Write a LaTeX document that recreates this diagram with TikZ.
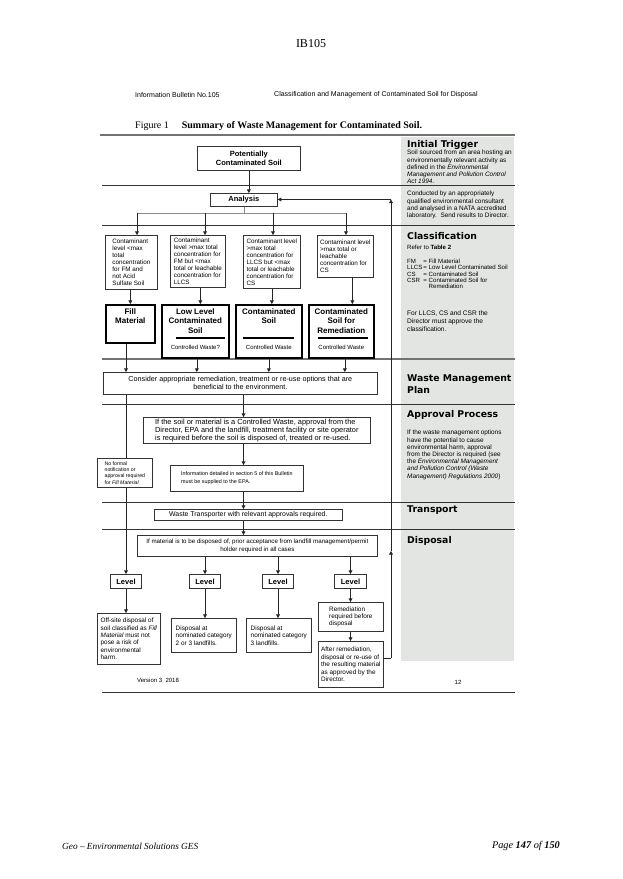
\documentclass[tikz,border=0pt]{standalone}
\usepackage{fontspec}
\setmainfont{Liberation Serif}
\setsansfont{Liberation Sans}
\newfontfamily\hfont{DejaVu Sans}
\usetikzlibrary{arrows.meta,calc}
\newcommand\fsz[2]{\fontsize{#1}{#2}\selectfont}
\definecolor{panelgray}{HTML}{E3E5E2}
\begin{document}
\begin{tikzpicture}[x=1pt,y=-1pt,
  bx/.style={draw=black!80, line width=0.7pt, fill=white, inner sep=0pt, anchor=north west, align=left},
  bb/.style={draw=black, line width=1.7pt, fill=white, inner sep=0pt, anchor=north west},
  cls/.style={bx, font=\sffamily\fsz{6.3}{7}},
  btm/.style={bx, font=\sffamily\fsz{6.4}{7.4}},
  lvl/.style={bx, anchor=north, minimum width=31, minimum height=14, font=\sffamily\bfseries\fsz{7.5}{9}},
  ttl/.style={anchor=north, inner sep=0pt, align=center, font=\sffamily\bfseries\fsz{8}{9.6}},
  cw/.style={anchor=center, inner sep=0pt, font=\sffamily\fsz{6}{7}},
  arr/.style={draw=black!85, line width=0.7pt, -{Triangle[length=3.6pt,width=3.8pt]}},
  ln/.style={draw=black!85, line width=0.7pt},
  sep/.style={draw=black!80, line width=0.8pt},
  sepg/.style={draw=black!55, line width=2pt},
  hd/.style={anchor=north west, inner sep=0pt, align=left, font=\hfont\bfseries\fsz{9.3}{12}},
  pt/.style={anchor=north west, inner sep=0pt, align=left, font=\sffamily\fsz{6.4}{7.2}},
  plain/.style={inner sep=0pt}
]
\useasboundingbox (0,0) rectangle (622,879);
\fill[white] (0,0) rectangle (622,879);

% page header
\node[plain, font=\rmfamily\fsz{12}{14}] (ib) at (311,44) {IB105};
\node[plain, anchor=west, font=\sffamily\fsz{7}{8}] (h1) at (135,95) {Information Bulletin No.105};
\node[plain, anchor=west, font=\sffamily\fsz{7}{8}] (h2) at (274,95) {Classification and Management of Contaminated Soil for Disposal};
\node[plain, anchor=west, font=\rmfamily\fsz{10}{12}] (fig) at (135,126) {Figure 1\hspace{1.3em}\textbf{Summary of Waste Management for Contaminated Soil.}};

% right grey panel
\fill[panelgray] (401,137) rectangle (514,661);

% separators
\draw[sepg] (100,135) -- (515,135);
\draw[sep] (102,185) -- (515,185);
\draw[sep] (102,225) -- (515,225);
\draw[sepg] (102,359) -- (515,359);
\draw[sep] (102,404) -- (515,404);
\draw[sep] (102,502) -- (515,502);
\draw[sep] (102,529) -- (515,529);
\draw[sep] (102,692) -- (515,692);

% right panel texts
\node[hd] (t1) at (407,140) {Initial Trigger};
\node[pt] (p1) at (407,150) {Soil sourced from an area hosting an\\environmentally relevant activity as\\defined in the \textit{Environmental}\\\textit{Management and Pollution Control}\\\textit{Act 1994}.};
\node[pt] (p2) at (407,191) {Conducted by an appropriately\\qualified environmental consultant\\and analysed in a NATA accredited\\laboratory.\ \ Send results to Director.};
\node[hd] (t2) at (407,232) {Classification};
\node[pt, font=\sffamily\fsz{6.1}{6.6}] (p3) at (407,245) {Refer to \textbf{Table 2}};
\node[pt, font=\sffamily\fsz{6.1}{6.2}] (p4) at (407,259) {\begin{tabular}{@{}l@{\,}l@{}}FM & = Fill Material\\LLCS & = Low Level Contaminated Soil\\CS & = Contaminated Soil\\CSR & = Contaminated Soil for\\ & \phantom{= }Remediation\end{tabular}};
\node[pt, font=\sffamily\fsz{6.6}{8}] (p5) at (407,311) {For LLCS, CS and CSR the\\Director must approve the\\classification.};
\node[hd] (t3) at (407,375) {Waste Management\\Plan};
\node[hd] (t4) at (407,410) {Approval Process};
\node[pt] (p6) at (407,430) {If the waste management options\\have the potential to cause\\environmental harm, approval\\from the Director is required (see\\the \textit{Environmental Management}\\\textit{and Pollution Control (Waste}\\\textit{Management) Regulations 2000})};
\node[hd] (t5) at (407,506) {Transport};
\node[hd] (t6) at (407,536) {Disposal};

% flow boxes
\node[bx, minimum width=103, minimum height=24, align=center, font=\sffamily\bfseries\fsz{7.5}{8.8}] (pcs) at (197,146) {Potentially\\Contaminated Soil};
\node[bx, minimum width=67, minimum height=13, align=center, font=\sffamily\bfseries\fsz{7.5}{9}] (an) at (210,193) {Analysis};

\node[cls, minimum width=52, minimum height=54] (c1) at (105,235) {Contaminant\\level <max\\total\\concentration\\for FM and\\not Acid\\Sulfate Soil};
\node[cls, minimum width=55, minimum height=52] (c2) at (170,235) {Contaminant\\level >max total\\concentration for\\FM but <max\\total or leachable\\concentration for\\LLCS};
\node[cls, minimum width=57, minimum height=53] (c3) at (243,235) {Contaminant level\\>max total\\concentration for\\LLCS but <max\\total or leachable\\concentration for\\CS};
\node[cls, minimum width=56, minimum height=42] (c4) at (317,235) {Contaminant level\\>max total or\\leachable\\concentration for\\CS};

\node[bb, minimum width=49, minimum height=38] (fm) at (105,304) {};
\node[bb, minimum width=67, minimum height=53] (ll) at (161,304) {};
\node[bb, minimum width=66, minimum height=53] (cs) at (235,304) {};
\node[bb, minimum width=65, minimum height=53] (csr) at (308,304) {};
\node[ttl] (fmt) at (fm.north |- 0,308) {Fill\\Material};
\node[ttl] (llt) at (ll.north |- 0,308) {Low Level\\Contaminated\\Soil};
\node[ttl] (cst) at (cs.north |- 0,308) {Contaminated\\Soil};
\node[ttl] (csrt) at (csr.north |- 0,308) {Contaminated\\Soil for\\Remediation};
\draw[line width=1.4pt] (176,338) -- (225,338);
\draw[line width=1.4pt] (243,338) -- (294,338);
\draw[line width=1.4pt] (318,338) -- (368,338);
\node[cw] (llw) at (ll.north |- 0,347.5) {Controlled Waste?};
\node[cw] (csw) at (cs.north |- 0,347.5) {Controlled Waste};
\node[cw] (csrw) at (csr.north |- 0,347.5) {Controlled Waste};

\node[bx, minimum width=274, minimum height=22, align=center, font=\sffamily\fsz{7.2}{8}] (cons) at (103,372) {Consider appropriate remediation, treatment or re-use options that are\\beneficial to the environment.};
\node[bx, minimum width=227, minimum height=26, font=\sffamily\fsz{7.4}{7.8}] (appr) at (143,417) {If the soil or material is a Controlled Waste, approval from the\\Director, EPA and the landfill, treatment facility or site operator\\is required before the soil is disposed of, treated or re-used.};
\node[bx, minimum width=133, minimum height=26, font=\sffamily\fsz{5.4}{8}] (info) at (170,465) {Information detailed in section 5 of this Bulletin\\must be supplied to the EPA.};
\node[bx, minimum width=188, minimum height=11, align=center, font=\sffamily\fsz{6.9}{8}] (trans) at (154,509) {Waste Transporter with relevant approvals required.};
\node[bx, minimum width=240, minimum height=21, align=center, font=\sffamily\fsz{6.2}{7.4}] (disp) at (137,535) {If material is to be disposed of, prior acceptance from landfill management/permit\\holder required in all cases};

\node[lvl] (l1) at (126,574) {Level};
\node[lvl] (l2) at (205,574) {Level};
\node[lvl] (l3) at (278,574) {Level};
\node[lvl, minimum width=32] (l4) at (350.5,574) {Level};

\node[btm, minimum width=63, minimum height=51] (b1) at (97,613) {Off-site disposal of\\soil classified as \textit{Fill}\\\textit{Material} must not\\pose a risk of\\environmental\\harm.};
\node[btm, minimum width=65, minimum height=34] (b2) at (171,618) {Disposal at\\nominated category\\2 or 3 landfills.};
\node[btm, minimum width=65, minimum height=34] (b3) at (246,618) {Disposal at\\nominated category\\3 landfills.};
\node[btm, minimum width=65, minimum height=29] (b4) at (318,602) {Remediation\\required before\\disposal};
\node[btm, minimum width=65, minimum height=46] (b5) at (318,641) {After remediation,\\disposal or re-use of\\the resulting material\\as approved by the\\Director.};

% connectors
\coordinate (br) at (0,213);
\coordinate (k1) at (137,213);
\coordinate (k2) at (205,213);
\coordinate (k3) at (273,213);
\coordinate (k4) at (346,213);
\coordinate (mx) at (243.5,0);
\coordinate (fx) at (126,0);
\draw[arr] (pcs.south) -- (pcs.south |- an.north);
\draw[draw=black!45, line width=0.7pt] (an.south) -- (an.south |- br);
\draw[draw=black!45, line width=0.7pt] (k1) -- (k4);
\draw[arr] (k1) -- (k1 |- c1.north);
\draw[arr] (k2) -- (k2 |- c2.north);
\draw[arr] (k3) -- (k3 |- c3.north);
\draw[arr] (k4) -- (k4 |- c4.north);

\draw[arr] ([xshift=-1pt]c1.south) -- ([xshift=-1pt]c1.south |- fm.north);
\draw[arr] ([xshift=2.5pt]c2.south) -- ([xshift=2.5pt]c2.south |- ll.north);
\draw[arr] (c3.south) -- (c3.south |- cs.north);
\draw[arr] ([xshift=7pt]c4.south) -- ([xshift=7pt]c4.south |- csr.north);

\draw[arr] (fx |- fm.south) -- (fx |- cons.north);
\draw[arr] ([xshift=1.5pt]ll.south) -- ([xshift=1.5pt]ll.south |- cons.north);
\draw[arr] (cs.south) -- (cs.south |- cons.north);
\draw[arr] ([xshift=3.5pt]csr.south) -- ([xshift=3.5pt]csr.south |- cons.north);

\draw[arr] (mx |- cons.south) -- (mx |- appr.north);
\draw[arr] (mx |- appr.south) -- (mx |- info.north);
\draw[arr] (mx |- info.south) -- (mx |- trans.north);
\draw[arr] (mx |- trans.south) -- (mx |- disp.north);

\draw[ln] (fx |- cons.south) -- (fx |- 0,458);
\node[bx, minimum width=55, minimum height=29, font=\sffamily\fsz{5.2}{6.4}] (nof) at (97,458) {No formal\\notification or\\approval required\\for \textit{Fill Material}};
\draw[arr] (fx |- nof.south) -- (fx |- l1.north);

\draw[arr] (l2.north |- disp.south) -- (l2.north);
\draw[arr] (l3.north |- disp.south) -- (l3.north);
\draw[arr] (l4.north |- disp.south) -- (l4.north);

\draw[arr] (l1.south) -- (l1.south |- b1.north);
\draw[arr] (l2.south) -- (l2.south |- b2.north);
\draw[arr] (l3.south) -- (l3.south |- b3.north);
\draw[arr] (l4.south) -- (l4.south |- b4.north);
\draw[arr] (b4.south -| l4.south) -- (l4.south |- b5.north);

\coordinate (fbb) at (391,658);
\coordinate (fbm) at (391,551);
\coordinate (fbt) at (391,199.5);
\draw[ln] (b5.east |- fbb) -- (fbb);
\draw[arr] (fbb) -- (fbm);
\draw[arr] (fbm) -- (fbt);
\draw[arr] (fbt) -- (fbt -| an.east);

% page footer
\node[plain, anchor=west, font=\sffamily\fsz{6}{7}] (ver) at (137,680) {Version 3\ \ 2018};
\node[plain, font=\sffamily\fsz{6}{7}] (pg) at (458,682) {12};
\node[plain, anchor=west, font=\rmfamily\itshape\fsz{9.3}{11}] (geo) at (62,846) {Geo -- Environmental Solutions GES};
\node[plain, anchor=east, font=\rmfamily\itshape\fsz{10.3}{12}] (pgn) at (560,846) {Page \textbf{147} of \textbf{150}};
\end{tikzpicture}
\end{document}
